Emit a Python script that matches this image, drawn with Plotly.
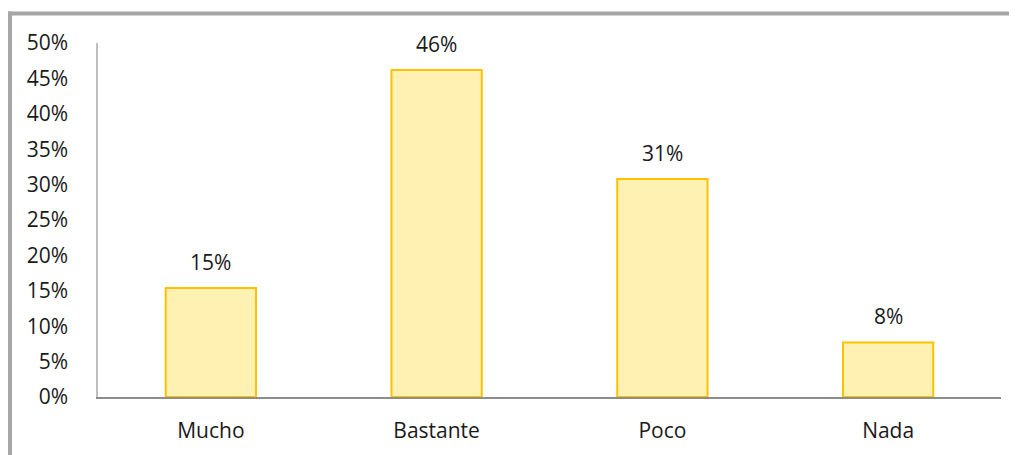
import plotly.graph_objects as go

# survey answers (share of responses)
categories = ["Mucho", "Bastante", "Poco", "Nada"]
values = [0.154, 0.462, 0.308, 0.077]
tick_vals = [0, 0.05, 0.10, 0.15, 0.20, 0.25, 0.30, 0.35, 0.40, 0.45, 0.50]
tick_text = ["0%", "5%", "10%", "15%", "20%", "25%", "30%", "35%", "40%", "45%", "50%"]

W, H = 1017, 455
off = 8  # page offset of the figure inside the browser window
ml, mr, mt, mb = 98 - off, 16 + off, 43 - off, 58 + off
pw, ph = W - ml - mr, H - mt - mb


def px_x(p):
    return (p - off - ml) / pw


def px_y(p):
    return (H - mb - (p - off)) / ph


font = dict(family="Open Sans, sans-serif", size=21, color="#1a1a1a")

fig = go.Figure()
fig.add_trace(go.Bar(
    x=categories, y=values,
    marker=dict(color="#FEF1B2", line=dict(color="#FFC000", width=2)),
    width=0.4,
    hoverinfo="skip",
))

# value labels above each bar
for c, v in zip(categories, values):
    fig.add_annotation(x=c, y=v, text="{:.0f}%".format(v * 100),
                       showarrow=False, yanchor="bottom", yshift=10,
                       font=font)

# outer frame (top and left edges only are visible)
fig.add_shape(type="line", xref="paper", yref="paper",
              x0=px_x(8), x1=px_x(W + 40), y0=px_y(13.5), y1=px_y(13.5),
              line=dict(color="#A6A6A6", width=4))
fig.add_shape(type="line", xref="paper", yref="paper",
              x0=px_x(10), x1=px_x(10), y0=px_y(11.5), y1=px_y(H + 20),
              line=dict(color="#A6A6A6", width=4))

fig.update_layout(
    width=W, height=H,
    margin=dict(l=ml, r=mr, t=mt, b=mb),
    paper_bgcolor="white", plot_bgcolor="white",
    showlegend=False,
    font=font,
)
fig.update_xaxes(showline=True, linecolor="#8C8C8C", linewidth=1.5,
                 ticks="", ticklabelstandoff=14, showgrid=False)
fig.update_yaxes(range=[0, 0.5], tickvals=tick_vals, ticktext=tick_text,
                 showline=True, linecolor="#BFBFBF", linewidth=1.5,
                 ticks="", ticklabelstandoff=24, showgrid=False, zeroline=False)

fig.write_html("out.html")
